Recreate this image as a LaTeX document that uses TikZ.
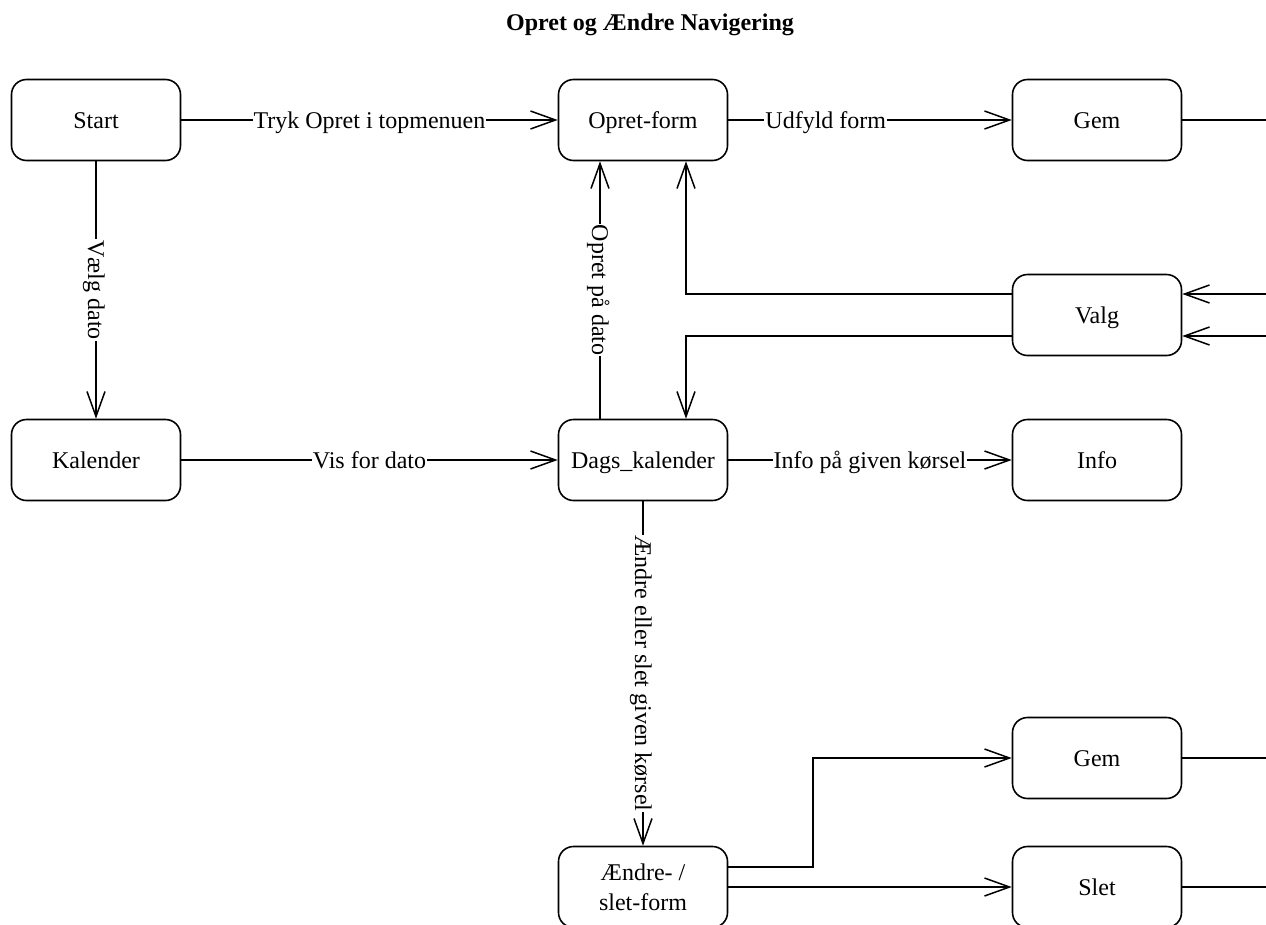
\documentclass[tikz,border=0pt]{standalone}
\usepackage{fontspec}
\setmainfont{Liberation Serif}
\usetikzlibrary{arrows.meta}
\begin{document}
\begin{tikzpicture}[x=1pt,y=-1pt,
  font=\fontsize{24}{30}\selectfont,
  box/.style={draw, line width=1.6pt, rounded corners=15pt, minimum width=169pt,
    minimum height=81pt, align=center, inner sep=0pt},
  state/.style={box, text height=20pt, text depth=4pt},
  flow/.style={line width=1.5pt, -{Straight Barb[length=25pt,width=18pt,line width=1.5pt]}},
  link/.style={line width=1.5pt},
  lbl/.style={fill=white, inner sep=1pt, text height=20pt, text depth=4pt},
  vlbl/.style={lbl, rotate=-90}]
\useasboundingbox (0,0) rectangle (1266,924);

% title
\node (title) at (650,25) {\bfseries Opret og Ændre Navigering};

% states
\node[state] (start)  at (96,120)   {Start};
\node[state] (opret)  at (643,120)  {Opret-form};
\node[state] (gem1)   at (1097,120) {Gem};
\node[state] (valg)   at (1097,315) {Valg};
\node[state] (kal)    at (96,460)   {Kalender};
\node[state] (dags)   at (643,460)  {Dags\_kalender};
\node[state] (info)   at (1097,460) {Info};
\node[state] (gem2)   at (1097,758) {Gem};
\node[box]   (aendre) at (643,887)  {Ændre- /\\slet-form};
\node[state] (slet)   at (1097,887) {Slet};

% loose ends running off to the right
\coordinate (out1) at (1266,120);
\coordinate (in1)  at (1266,294);
\coordinate (in2)  at (1266,336);
\coordinate (out2) at (1266,758);
\coordinate (out3) at (1266,887);
\coordinate (knee) at (813,758);

% transitions
\draw[flow] (start) -- node[lbl]{Tryk Opret i topmenuen} (opret);
\draw[flow] (opret) -- node[lbl,pos=0.344]{Udfyld form} (gem1);
\draw[link] (gem1) -- (out1);
\draw[flow] (start) -- node[vlbl]{Vælg dato} (kal);
\draw[flow] (kal) -- node[lbl]{Vis for dato} (dags);
\draw[flow] ([xshift=-43pt]dags.north) -- node[vlbl]{Opret på dato} ([xshift=-43pt]opret.south);
\draw[flow] ([yshift=21pt]valg.west) -| ([xshift=43pt]opret.south);
\draw[flow] ([yshift=-21pt]valg.west) -| ([xshift=43pt]dags.north);
\draw[flow] (in1) -- (in1 -| valg.east);
\draw[flow] (in2) -- (in2 -| valg.east);
\draw[flow] (dags) -- node[lbl]{Info på given kørsel} (info);
\draw[flow] (dags) -- node[vlbl]{Ændre eller slet given kørsel} (aendre);
\draw[flow] ([yshift=20pt]aendre.east) -| (knee) -- (gem2);
\draw[flow] (aendre) -- (slet);
\draw[link] (gem2) -- (out2);
\draw[link] (slet) -- (out3);
\end{tikzpicture}
\end{document}
